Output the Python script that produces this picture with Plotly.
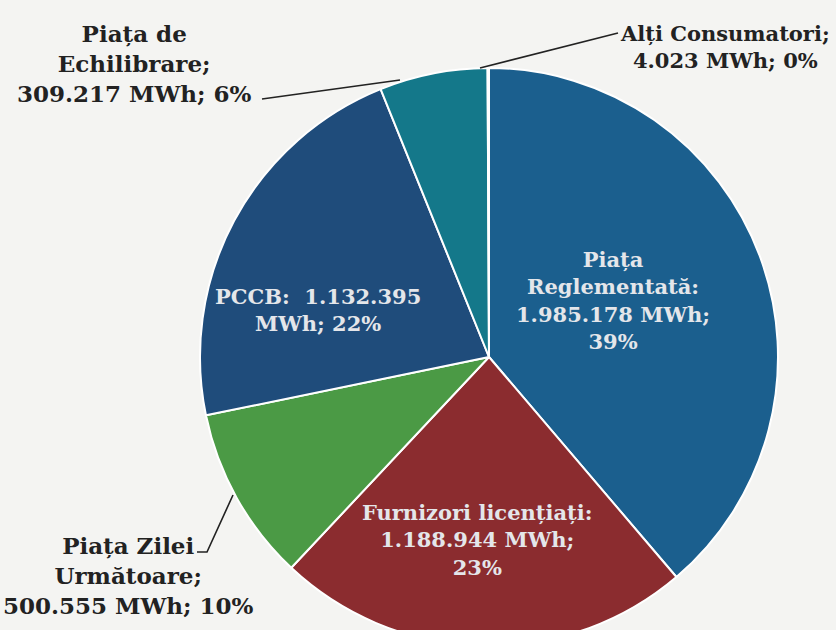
"""Pie chart: energy sales by market segment (MWh)."""

import plotly.graph_objects as go

W, H = 836, 660

segments = [
    "Piața Reglementată",
    "Furnizori licențiați",
    "Piața Zilei Următoare",
    "PCCB",
    "Piața de Echilibrare",
    "Alți Consumatori",
]
mwh = [1985178, 1188944, 500555, 1132395, 309217, 4023]
colors = ["#1b5f8e", "#8b2c2f", "#4b9a45", "#1f4c7b", "#14788a", "#14788a"]

total = sum(mwh)
pct = [round(v / total * 100) for v in mwh]


def fmt(v):
    return f"{v:,}".replace(",", ".")


def px(x, y):
    return x / W, 1 - y / H


fig = go.Figure(
    go.Pie(
        labels=segments,
        values=mwh,
        sort=False,
        direction="clockwise",
        rotation=0,
        marker=dict(colors=colors, line=dict(color="#ffffff", width=2)),
        textinfo="none",
        showlegend=False,
        domain=dict(x=[200 / W, 778 / W], y=[(H - 646) / H, (H - 68) / H]),
    )
)

inside_font = dict(family="DejaVu Serif", size=21, color="#e4e6ea", weight="bold")
outside_font = dict(family="DejaVu Serif", size=23, color="#222222", weight="bold")
small_font = dict(family="DejaVu Serif", size=21, color="#222222", weight="bold")

labels = [
    # (index, text, x, y, font)
    (0, f"Piața<br>Reglementată:<br>{fmt(mwh[0])} MWh;<br>{pct[0]}%", 613, 300, inside_font),
    (1, f"Furnizori licențiați:<br>{fmt(mwh[1])} MWh;<br>{pct[1]}%", 477, 540, inside_font),
    (3, f"PCCB:  {fmt(mwh[3])}<br>MWh; {pct[3]}%", 318, 310, inside_font),
    (2, f"Piața Zilei<br>Următoare;<br>{fmt(mwh[2])} MWh; {pct[2]}%", 128, 575, outside_font),
    (4, f"Piața de<br>Echilibrare;<br>{fmt(mwh[4])} MWh; {pct[4]}%", 134, 63, outside_font),
    (5, f"Alți Consumatori;<br>{fmt(mwh[5])} MWh; {pct[5]}%", 725, 47, small_font),
]

for _, text, x, y, font in labels:
    ax, ay = px(x, y)
    fig.add_annotation(
        x=ax, y=ay, xref="paper", yref="paper", text=text,
        showarrow=False, font=font, align="center",
        xanchor="center", yanchor="middle",
    )

# leader lines
leaders = [
    [(262, 99), (400, 80)],
    [(480, 68), (618, 33)],
    [(197, 552), (207, 552), (233, 495)],
]
for pts in leaders:
    path = ""
    for i, (x, y) in enumerate(pts):
        ax, ay = px(x, y)
        path += ("M" if i == 0 else "L") + f"{ax},{ay} "
    fig.add_shape(type="path", path=path, xref="paper", yref="paper",
                  line=dict(color="#222222", width=1.6))

fig.update_layout(
    width=W,
    height=H,
    margin=dict(t=0, b=0, l=0, r=0),
    paper_bgcolor="#f4f4f2",
    plot_bgcolor="#f4f4f2",
)

fig.write_html(
    "out.html",
    config={"displayModeBar": False},
    post_script="document.body.style.margin='0';document.body.style.overflow='hidden';",
)
